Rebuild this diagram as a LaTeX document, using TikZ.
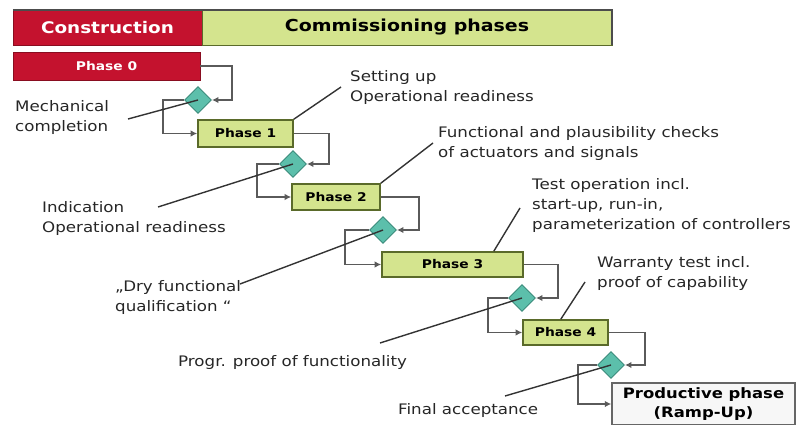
\documentclass[tikz,border=0pt]{standalone}
\usepackage{fontspec}
\setmainfont{DejaVu Sans}[FakeStretch=1.15]
\usetikzlibrary{shapes.geometric,arrows.meta}

\definecolor{cred}{HTML}{C4122E}
\definecolor{cgreen}{HTML}{D4E48E}
\definecolor{cgreenedge}{HTML}{5A6A2A}
\definecolor{cteal}{HTML}{5CBFAB}
\definecolor{ctealedge}{HTML}{3C8C7C}
\definecolor{cloop}{HTML}{5A5A5A}

\tikzset{
  redbox/.style={draw=cred!70!black, fill=cred, text=white, font=\bfseries\fontsize{16}{18}\selectfont, inner sep=0pt},
  headbox/.style={draw=cgreenedge, fill=cgreen, font=\bfseries\fontsize{16.5}{18}\selectfont, inner sep=0pt},
  phasebox/.style={draw=cgreenedge, line width=1.6pt, fill=cgreen, font=\bfseries\fontsize{12}{14}\selectfont, inner sep=0pt},
  prodbox/.style={draw=gray!80!black, line width=1.4pt, fill=gray!6, font=\bfseries\fontsize{14.3}{19}\selectfont, align=center, inner sep=0pt},
  gate/.style={shape=diamond, draw=ctealedge, line width=0.9pt, fill=cteal, minimum width=27pt, minimum height=27pt, inner sep=0pt},
  loopline/.style={draw=cloop, line width=1.8pt, -{Latex[length=6.5pt,width=6.5pt]}},
  lead/.style={draw=black!80, line width=1.4pt},
  lbl/.style={font=\fontsize{14.5}{20}\selectfont, align=left, anchor=north west, inner sep=0pt, text=black!85}
}

\begin{document}
\begin{tikzpicture}[x=1pt, y=-1pt]
\useasboundingbox (0,0) rectangle (800,425);

% header bar
\node[redbox, minimum width=189pt, minimum height=35pt] (constr) at (107.5,27.5) {Construction};
\node[headbox, minimum width=410pt, minimum height=35pt] (comm) at (407,27.5) {Commissioning phases};
\draw[black!70, line width=1.8pt] (constr.north west) -- (comm.north east) -- (comm.south east);

% phases
\node[redbox, font=\bfseries\fontsize{12}{14}\selectfont, minimum width=187pt, minimum height=28pt] (p0) at (106.5,66) {Phase 0};
\node[phasebox, minimum width=95pt, minimum height=27pt] (p1) at (245.5,133.5) {Phase 1};
\node[phasebox, minimum width=88pt, minimum height=26pt] (p2) at (336,197) {Phase 2};
\node[phasebox, minimum width=141pt, minimum height=25pt] (p3) at (452.5,264.5) {Phase 3};
\node[phasebox, minimum width=85pt, minimum height=25pt] (p4) at (565.5,332.5) {Phase 4};
\node[prodbox, minimum width=183pt, minimum height=42pt] (p5) at (703.5,404) {Productive phase\\(Ramp-Up)};

% quality gates
\node[gate] (d1) at (198,100) {};
\node[gate] (d2) at (293,164) {};
\node[gate] (d3) at (383,230) {};
\node[gate] (d4) at (522,298) {};
\node[gate] (d5) at (611,365) {};

% feedback loops: phase -> gate
\draw[loopline] (p0.east) -- ++(32,0) |- (d1.east);
\draw[loopline] (p1.east) -- ++(35,0) |- (d2.east);
\draw[loopline] (p2.east) -- ++(38,0) |- (d3.east);
\draw[loopline] (p3.east) -- ++(34,0) |- (d4.east);
\draw[loopline] (p4.east) -- ++(36,0) |- (d5.east);

% gate -> next phase
\draw[loopline] (d1.west) -- ++(-21,0) |- (p1.west);
\draw[loopline] (d2.west) -- ++(-22,0) |- (p2.west);
\draw[loopline] (d3.west) -- ++(-24,0) |- (p3.west);
\draw[loopline] (d4.west) -- ++(-20,0) |- (p4.west);
\draw[loopline] (d5.west) -- ++(-19,0) |- (p5.west);

% phase descriptions
\node[lbl] (t1) at (350,70) {Setting up\\Operational readiness};
\node[lbl] (t2) at (438,126) {Functional and plausibility checks\\of actuators and signals};
\node[lbl] (t3) at (532,178) {Test operation incl.\\start-up, run-in,\\parameterization of controllers};
\node[lbl] (t4) at (597,256) {Warranty test incl.\\proof of capability};

\coordinate (c1) at (341,87);
\coordinate (c2) at (433,143);
\coordinate (c3) at (520,208);
\coordinate (c4) at (585,282);
\draw[lead] (p1.north east) -- (c1);
\draw[lead] (p2.north east) -- (c2);
\draw[lead] ([xshift=-30pt]p3.north east) -- (c3);
\draw[lead] ([xshift=-48pt]p4.north east) -- (c4);

% gate descriptions
\node[lbl] (g1) at (15,100) {Mechanical\\completion};
\node[lbl] (g2) at (42,201) {Indication\\Operational readiness};
\node[lbl] (g3) at (115,280) {„Dry functional\\qualification “};
\node[lbl] (g4) at (178,355) {Progr. proof of functionality};
\node[lbl] (g5) at (398,403) {Final acceptance};

\coordinate (e1) at (128,119);
\coordinate (e2) at (158,207);
\coordinate (e3) at (240,284);
\coordinate (e4) at (380,343);
\coordinate (e5) at (505,396);
\draw[lead] (e1) -- (d1.center);
\draw[lead] (e2) -- (d2.center);
\draw[lead] (e3) -- (d3.center);
\draw[lead] (e4) -- (d4.center);
\draw[lead] (e5) -- (d5.center);
\end{tikzpicture}
\end{document}
